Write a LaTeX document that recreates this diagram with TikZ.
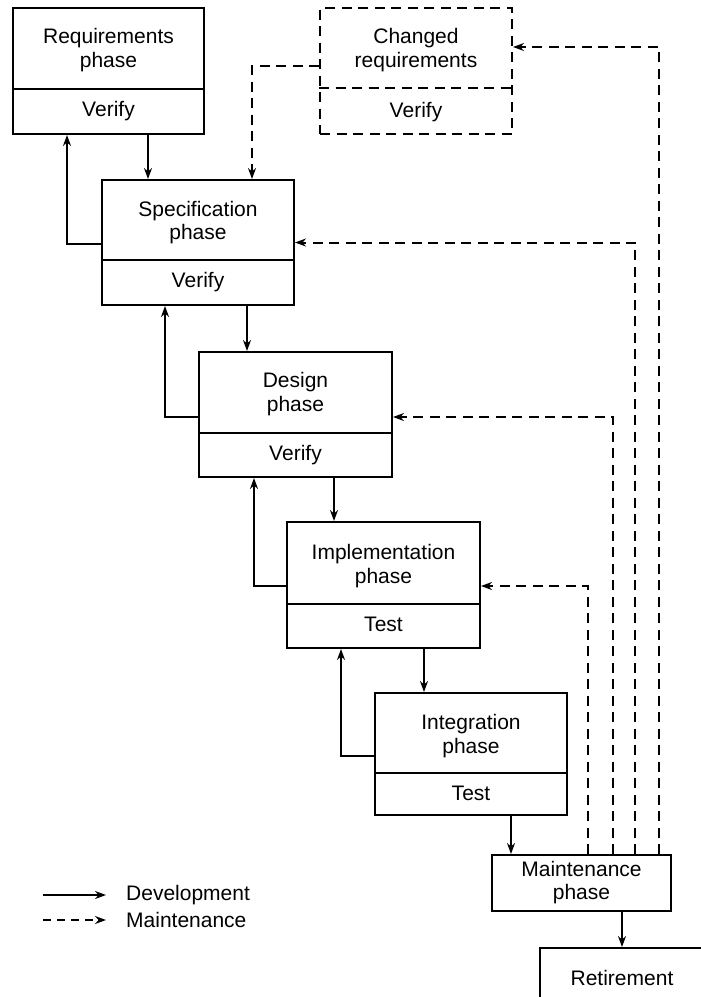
\documentclass[tikz,border=0pt]{standalone}
\usepackage{fontspec}
\setmainfont{Liberation Sans}
\usetikzlibrary{arrows.meta}
\begin{document}
\begin{tikzpicture}[x=1pt,y=-1pt,
  every node/.style={font=\fontsize{21}{23.5}\selectfont},
  box/.style={draw, line width=2pt, inner sep=0pt},
  dbox/.style={box, dash pattern=on 10pt off 6.5pt},
  lbl/.style={align=center, inner sep=0pt},
  dev/.style={line width=2pt, -{Stealth[length=11pt,width=8pt]}},
  mnt/.style={dev, dash pattern=on 10pt off 6.5pt},
  divider/.style={line width=2pt},
  ]
\useasboundingbox (0,0) rectangle (701,997);

% phase boxes (upper part: phase name, lower part: check)
\node[box, minimum width=191pt, minimum height=126pt] (req)  at (108.5,71)  {};
\node[dbox, minimum width=192pt, minimum height=126pt] (chg) at (416,71)   {};
\node[box, minimum width=192pt, minimum height=125pt] (spec) at (198,242.5) {};
\node[box, minimum width=193pt, minimum height=125pt] (des)  at (295.5,414.5) {};
\node[box, minimum width=193pt, minimum height=126pt] (imp)  at (383.5,585) {};
\node[box, minimum width=192pt, minimum height=122pt] (int)  at (471,754)   {};
\node[box, minimum width=179pt, minimum height=56pt]  (main) at (581.5,883) {};
\node[box, minimum width=164pt, minimum height=60pt]  (ret)  at (622,978)   {};

% dividers between the two parts of each box
\draw[divider] ([yshift=46pt]req.south west) -- ([yshift=46pt]req.south east);
\draw[divider, dash pattern=on 10pt off 6.5pt] ([yshift=47pt]chg.south west) -- ([yshift=47pt]chg.south east);
\draw[divider] ([yshift=46pt]spec.south west) -- ([yshift=46pt]spec.south east);
\draw[divider] ([yshift=45pt]des.south west) -- ([yshift=45pt]des.south east);
\draw[divider] ([yshift=45pt]imp.south west) -- ([yshift=45pt]imp.south east);
\draw[divider] ([yshift=43pt]int.south west) -- ([yshift=43pt]int.south east);

% labels
\node[lbl] (req-t)  at (108.5,50)  {Requirements\\phase};
\node[lbl] (req-b)  at (108.5,111) {Verify};
\node[lbl] (chg-t)  at (416,50)    {Changed\\requirements};
\node[lbl] (chg-b)  at (416,112)   {Verify};
\node[lbl] (spec-t) at (198,222.5) {Specification\\phase};
\node[lbl] (spec-b) at (198,282.5) {Verify};
\node[lbl] (des-t)  at (295.5,394) {Design\\phase};
\node[lbl] (des-b)  at (295.5,455) {Verify};
\node[lbl] (imp-t)  at (383.5,566) {Implementation\\phase};
\node[lbl] (imp-b)  at (383.5,624) {Test};
\node[lbl] (int-t)  at (471,736)   {Integration\\phase};
\node[lbl] (int-b)  at (471,793)   {Test};
\node[lbl] (main-t) at (581.5,882.5) {Maintenance\\phase};
\node[lbl] (ret-t)  at (622,978)   {Retirement};

% development flow
\draw[dev] ([xshift=39.5pt]req.south) -- ([xshift=39.5pt]req.south |- spec.north);
\draw[dev] ([xshift=49pt]spec.south) -- ([xshift=49pt]spec.south |- des.north);
\draw[dev] ([xshift=38.5pt]des.south) -- ([xshift=38.5pt]des.south |- imp.north);
\draw[dev] ([xshift=40.5pt]imp.south) -- ([xshift=40.5pt]imp.south |- int.north);
\draw[dev] ([xshift=40pt]int.south) -- ([xshift=40pt]int.south |- main.north);
\draw[dev] ([xshift=40.5pt]main.south) -- (ret.north);

% feedback to the previous phase
\draw[dev] ([yshift=-1.5pt]spec.west) -| ([xshift=55pt]req.south west);
\draw[dev] ([yshift=-2.5pt]des.west) -| ([xshift=64pt]spec.south west);
\draw[dev] ([yshift=-1pt]imp.west) -| ([xshift=56pt]des.south west);
\draw[dev] ([yshift=-2pt]int.west) -| ([xshift=55pt]imp.south west);

% maintenance flow
\draw[mnt] ([xshift=6.5pt]main.north) |- ([yshift=-1pt]imp.east);
\draw[mnt] ([xshift=31.5pt]main.north) |- ([yshift=-2.5pt]des.east);
\draw[mnt] ([xshift=53.5pt]main.north) |- (spec.east);
\draw[mnt] ([xshift=77.5pt]main.north) |- ([yshift=24pt]chg.east);
\draw[mnt] ([yshift=5pt]chg.west) -| ([xshift=54pt]spec.north);

% legend
\coordinate (l1a) at (43,895);  \coordinate (l1b) at (106,895);
\coordinate (l2a) at (43,920);  \coordinate (l2b) at (106,920);
\draw[dev] (l1a) -- (l1b);
\draw[dev, dash pattern=on 8pt off 6pt] (l2a) -- (l2b);
\node[lbl, anchor=west] (leg-dev) at (126,895) {Development};
\node[lbl, anchor=west] (leg-mnt) at (126,920) {Maintenance};
\end{tikzpicture}
\end{document}
